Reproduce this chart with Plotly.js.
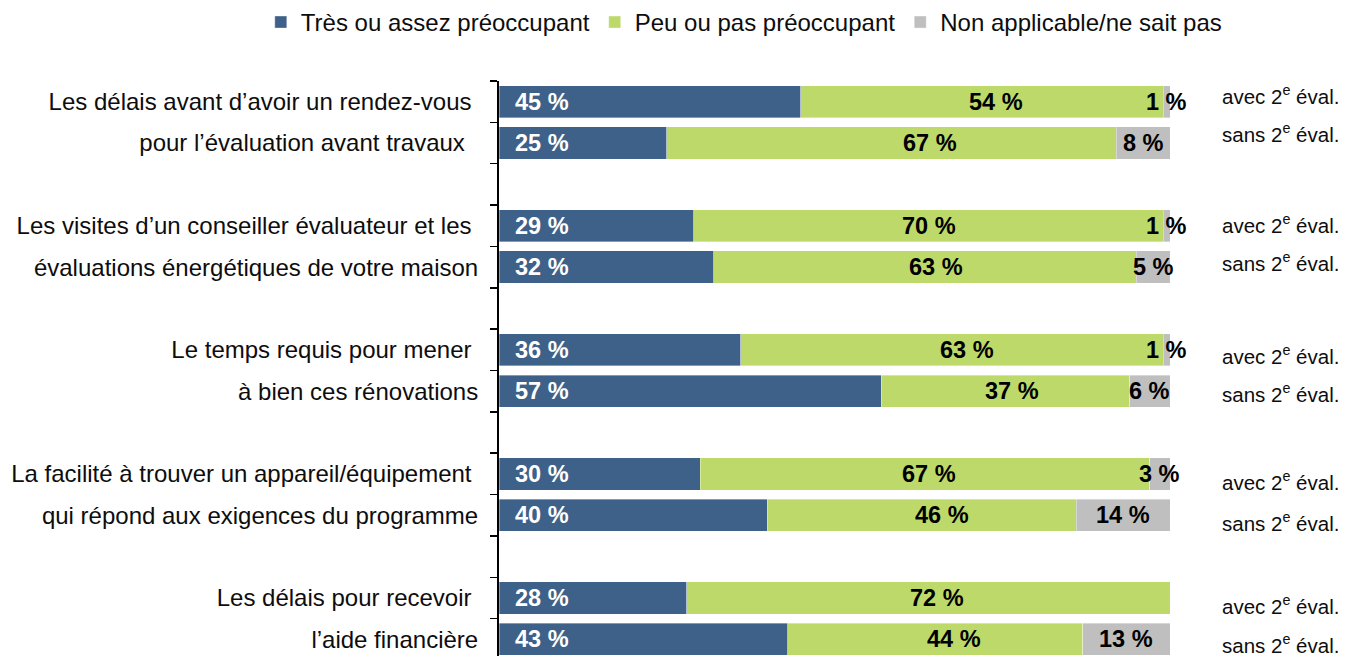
<!DOCTYPE html>
<html>
<head>
<meta charset="utf-8">
<script src="https://cdn.plot.ly/plotly-3.0.1.min.js"></script>
<style>
html,body{margin:0;padding:0;overflow:hidden;background:#fff;}
#chart{width:1345px;height:660px;}
</style>
</head>
<body>
<div id="chart"></div>
<script>
// ---- data ----
const rowLabels = [
  'Les délais avant d’avoir un rendez-vous\u00a0',
  'pour l’évaluation avant travaux\u00a0\u00a0',
  'Les visites d’un conseiller évaluateur et les\u00a0',
  'évaluations énergétiques de votre maison',
  'Le temps requis pour mener\u00a0',
  'à bien ces rénovations',
  'La facilité à trouver un appareil/équipement\u00a0',
  'qui répond aux exigences du programme',
  'Les délais pour recevoir\u00a0',
  'l’aide financière'
];
const seriesNames = ['Très ou assez préoccupant', 'Peu ou pas préoccupant', 'Non applicable/ne sait pas'];
const veryConcerned   = [45, 25, 29, 32, 36, 57, 30, 40, 28, 43];
const littleConcerned = [54, 67, 70, 63, 63, 37, 67, 46, 72, 44];
const notApplicable   = [ 1,  8,  1,  5,  1,  6,  3, 14,  0, 13];
const sideLabels = [
  'avec 2<sup>e</sup> éval.', 'sans 2<sup>e</sup> éval.',
  'avec 2<sup>e</sup> éval.', 'sans 2<sup>e</sup> éval.',
  'avec 2<sup>e</sup> éval.', 'sans 2<sup>e</sup> éval.',
  'avec 2<sup>e</sup> éval.', 'sans 2<sup>e</sup> éval.',
  'avec 2<sup>e</sup> éval.', 'sans 2<sup>e</sup> éval.'
];

// ---- styles ----
const FONT = 'Liberation Sans, Arial, sans-serif';
const colors = ['#3E6189', '#BDD96A', '#BFBFBF'];
const greenLabelShift = [14, 38, 1, 11, 15, 6, 4, 20, 9, 19];   // px
const sideLabelShift  = [7, 10.5, 2, 5, -5, -1.5, -7.5, -6.5, -7, -4.5]; // px

// category slots: two bars per group, blank slot between groups
const slots = [];
for (let i = 0; i < rowLabels.length; i += 2) {
  slots.push(rowLabels[i], rowLabels[i + 1]);
  if (i + 2 < rowLabels.length) slots.push('\u00a0'.repeat(i / 2 + 1));
}

const values = [veryConcerned, littleConcerned, notApplicable];
const traces = values.map((v, k) => ({
  type: 'bar',
  orientation: 'h',
  name: seriesNames[k],
  y: rowLabels,
  x: v,
  marker: {color: colors[k], line: {color: 'rgba(255,255,255,0.6)', width: 0.6}},
  textposition: 'none',
  hoverinfo: 'skip'
}));

const annotations = [];
rowLabels.forEach((r, i) => {
  const b = veryConcerned[i], g = littleConcerned[i], n = notApplicable[i];
  annotations.push({
    x: 0, y: r, xref: 'x', yref: 'y', xanchor: 'left', yanchor: 'middle',
    xshift: 14, text: '<b>' + b + ' %</b>', showarrow: false,
    font: {family: FONT, size: 23.5, color: '#ffffff'}
  });
  annotations.push({
    x: b + g / 2, y: r, xref: 'x', yref: 'y', xanchor: 'center', yanchor: 'middle',
    xshift: greenLabelShift[i], text: '<b>' + g + ' %</b>', showarrow: false,
    font: {family: FONT, size: 23.5, color: '#000000'}
  });
  if (n > 0) {
    annotations.push({
      x: b + g + n / 2, y: r, xref: 'x', yref: 'y', xanchor: 'center', yanchor: 'middle',
      text: '<b>' + n + ' %</b>', showarrow: false,
      font: {family: FONT, size: 23.5, color: '#000000'}
    });
  }
  annotations.push({
    x: 100, y: r, xref: 'x', yref: 'y', xanchor: 'left', yanchor: 'middle',
    xshift: 50, yshift: sideLabelShift[i], text: sideLabels[i], showarrow: false,
    font: {family: FONT, size: 20.5, color: '#0d0d0d'}
  });
});

const layout = {
  width: 1345, height: 660,
  margin: {l: 499, r: 175, t: 81, b: 0, pad: 0, autoexpand: false},
  paper_bgcolor: '#ffffff', plot_bgcolor: '#ffffff',
  barmode: 'stack', bargap: 0.22,
  font: {family: FONT, color: '#0d0d0d'},
  xaxis: {range: [0, 100], visible: false, fixedrange: true},
  yaxis: {
    type: 'category', categoryorder: 'array', categoryarray: slots,
    autorange: 'reversed', tickson: 'boundaries',
    ticks: 'outside', ticklen: 7, tickwidth: 1.5, tickcolor: '#000',
    showline: true, linecolor: '#000', linewidth: 2,
    showgrid: false, zeroline: false, fixedrange: true,
    tickfont: {family: FONT, size: 24, color: '#0d0d0d'},
    ticklabelstandoff: 14
  },
  showlegend: true,
  legend: {
    orientation: 'h', xref: 'paper', x: -0.355, xanchor: 'left',
    yref: 'paper', y: 1.14, yanchor: 'top',
    font: {family: FONT, size: 24, color: '#0d0d0d'},
    traceorder: 'normal', itemwidth: 30, bgcolor: 'rgba(0,0,0,0)'
  },
  annotations: annotations
};

Plotly.newPlot('chart', traces, layout, {staticPlot: true, displayModeBar: false});
</script>
</body>
</html>
